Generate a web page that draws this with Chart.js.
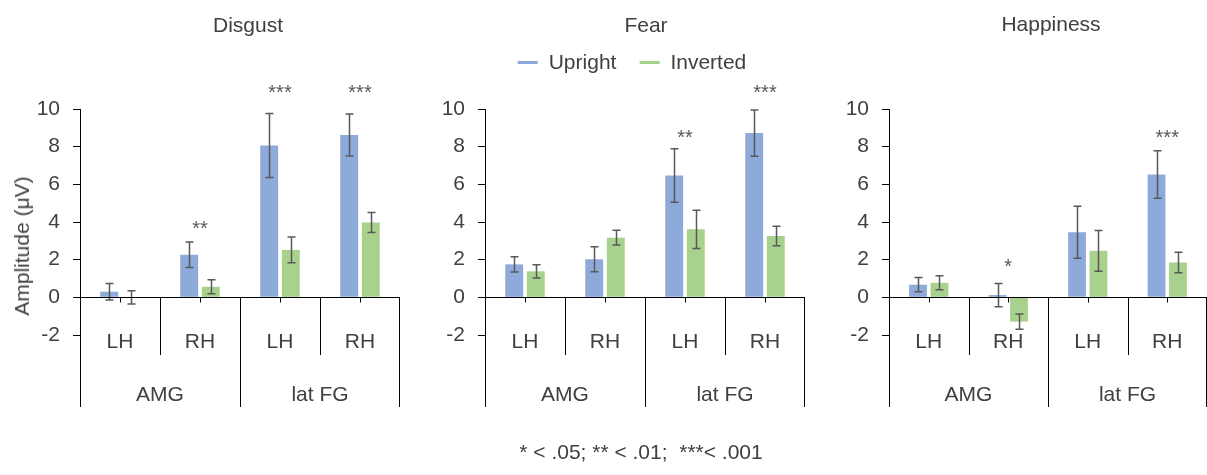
<!DOCTYPE html>
<html>
<head>
<meta charset="utf-8">
<script src="https://cdn.jsdelivr.net/npm/chart.js@4/dist/chart.umd.min.js"></script>
<style>
  body { margin: 0; background: #fff; }
  #wrap { position: relative; width: 1207px; height: 475px; overflow: hidden;
          font-family: 'Liberation Sans', Arial, sans-serif; color: #404040; }
  #wrap canvas { position: absolute; left: 0; top: 0; }
  .lbl { position: absolute; font-size: 21px; white-space: pre; transform: translate(-50%, -50%); }
  .ytitle { transform: translate(-50%, -50%) rotate(-90deg); }
  .legend { position: absolute; left: 632px; top: 62px; transform: translate(-50%, -50%);
            display: flex; align-items: center; font-size: 21px; white-space: nowrap; }
  .legend span.mk { display: inline-block; width: 20px; height: 3px; margin-right: 11px; }
  .legend span.item { display: flex; align-items: center; margin-right: 23px; }
  .legend span.item:last-child { margin-right: 0; }
</style>
</head>
<body>
<div id="wrap">
  <canvas id="disgust" width="1207" height="475"></canvas>
  <canvas id="fear" width="1207" height="475"></canvas>
  <canvas id="happiness" width="1207" height="475"></canvas>

  <div class="lbl" style="left:248px; top:25px;">Disgust</div>
  <div class="lbl" style="left:646px; top:25px;">Fear</div>
  <div class="lbl" style="left:1051px; top:24px;">Happiness</div>
  <div class="lbl ytitle" style="left:22px; top:246px;">Amplitude (μV)</div>
  <div class="legend">
    <span class="item"><span class="mk" style="background:#8eaadb"></span>Upright</span>
    <span class="item"><span class="mk" style="background:#a9d18e"></span>Inverted</span>
  </div>
  <div class="lbl" style="left:641px; top:452px;">* &lt; .05; ** &lt; .01;  ***&lt; .001</div>
</div>

<script>
// categorías del eje x (dos niveles)
var categories = ['LH', 'RH', 'LH', 'RH'];
var regions = ['AMG', 'lat FG'];

// Disgust
var disgustUpright = [0.3, 2.26, 8.06, 8.62];
var disgustUprightErr = [0.44, 0.68, 1.7, 1.12];
var disgustInverted = [0.0, 0.56, 2.52, 3.97];
var disgustInvertedErr = [0.35, 0.37, 0.68, 0.53];
var disgustStars = ['', '**', '***', '***'];
var disgustStarAt = [null, 3.9, 11.1, 11.1];

// Fear
var fearUpright = [1.75, 2.02, 6.47, 8.72];
var fearUprightErr = [0.4, 0.66, 1.42, 1.23];
var fearInverted = [1.38, 3.17, 3.61, 3.26];
var fearInvertedErr = [0.35, 0.39, 1.02, 0.52];
var fearStars = ['', '', '**', '***'];
var fearStarAt = [null, null, 8.72, 11.1];

// Happiness
var happinessUpright = [0.67, 0.12, 3.45, 6.52];
var happinessUprightErr = [0.38, 0.62, 1.38, 1.26];
var happinessInverted = [0.77, -1.29, 2.47, 1.85];
var happinessInvertedErr = [0.37, 0.4, 1.08, 0.55];
var happinessStars = ['', '*', '', '***'];
var happinessStarAt = [null, 1.87, null, 8.72];

var FONT = "'Liberation Sans', Arial, sans-serif";

// ejes de categorías, barras de error y asteriscos
var panelDecor = {
    id: 'panelDecor',
    afterDatasetsDraw: function (chart, args, opts) {
        var ctx = chart.ctx;
        var xs = chart.scales.x;
        var ys = chart.scales.y;
        var area = chart.chartArea;
        var y0 = Math.round(ys.getPixelForValue(0)) + 0.5;
        var left = Math.round(area.left) + 0.5;
        var step = (area.right - area.left) / categories.length;

        ctx.save();

        // barras de error
        ctx.strokeStyle = '#595959';
        ctx.lineWidth = 1.5;
        [opts.upErr, opts.invErr].forEach(function (errs, di) {
            var meta = chart.getDatasetMeta(di);
            var vals = chart.data.datasets[di].data;
            meta.data.forEach(function (bar, i) {
                var x = Math.round(bar.x) + 0.5;
                var t = ys.getPixelForValue(vals[i] + errs[i]);
                var b = ys.getPixelForValue(vals[i] - errs[i]);
                ctx.beginPath();
                ctx.moveTo(x, t); ctx.lineTo(x, b);
                ctx.moveTo(x - 4, t); ctx.lineTo(x + 4, t);
                ctx.moveTo(x - 4, b); ctx.lineTo(x + 4, b);
                ctx.stroke();
            });
        });

        // línea del cero y marcas
        ctx.strokeStyle = '#000';
        ctx.lineWidth = 1;
        ctx.beginPath();
        ctx.moveTo(left, y0);
        ctx.lineTo(area.right, y0);
        categories.forEach(function (c, i) {
            var cx = Math.round(xs.getPixelForValue(i)) + 0.5;
            ctx.moveTo(cx, y0);
            ctx.lineTo(cx, y0 + 5);
        });
        // eje izquierdo prolongado
        ctx.moveTo(left, area.bottom);
        ctx.lineTo(left, area.bottom + 72);
        // divisores
        for (var i = 1; i <= categories.length; i++) {
            var dx = Math.round(area.left + i * step) + 0.5;
            if (i === categories.length) dx -= 1;
            var long = (i % 2 === 0);
            ctx.moveTo(dx, y0);
            ctx.lineTo(dx, long ? area.bottom + 72 : area.bottom + 20);
        }
        ctx.stroke();

        // etiquetas
        ctx.fillStyle = '#404040';
        ctx.font = '21px ' + FONT;
        ctx.textAlign = 'center';
        ctx.textBaseline = 'middle';
        categories.forEach(function (c, i) {
            ctx.fillText(c, xs.getPixelForValue(i), area.bottom + 7);
        });
        regions.forEach(function (r, g) {
            ctx.fillText(r, area.left + (g * 2 + 1) * step, area.bottom + 60);
        });

        // asteriscos
        ctx.fillStyle = '#595959';
        ctx.font = '20px ' + FONT;
        ctx.textBaseline = 'alphabetic';
        opts.stars.forEach(function (s, i) {
            if (!s) return;
            ctx.fillText(s, xs.getPixelForValue(i), ys.getPixelForValue(opts.starAt[i]) + 11);
        });

        ctx.restore();
    }
};

function makePanel(id, up, upErr, inv, invErr, stars, starAt, axisX, rightX) {
    return new Chart(document.getElementById(id), {
        type: 'bar',
        data: {
            labels: categories,
            datasets: [{
                label: 'Upright',
                data: up,
                backgroundColor: '#8eaadb',
                borderWidth: 0,
                categoryPercentage: 0.54,
                barPercentage: 0.83
            }, {
                label: 'Inverted',
                data: inv,
                backgroundColor: '#a9d18e',
                borderWidth: 0,
                categoryPercentage: 0.54,
                barPercentage: 0.83
            }]
        },
        options: {
            responsive: false,
            animation: false,
            events: [],
            layout: {
                padding: { left: axisX - 50, right: 1207 - rightX, top: 109, bottom: 140 }
            },
            plugins: {
                legend: { display: false },
                tooltip: { enabled: false },
                panelDecor: { upErr: upErr, invErr: invErr, stars: stars, starAt: starAt }
            },
            scales: {
                x: { display: false },
                y: {
                    min: -2,
                    max: 10,
                    ticks: { stepSize: 2, padding: 13, color: '#404040', font: { family: FONT, size: 21 } },
                    grid: { drawOnChartArea: false, drawTicks: true, tickLength: 7, color: '#000' },
                    border: { display: true, color: '#000' },
                    afterFit: function (s) {
                        s.width = 50;
                        s.paddingTop = 0;
                        s.paddingBottom = 0;
                    }
                }
            }
        },
        plugins: [panelDecor]
    });
}

makePanel('disgust', disgustUpright, disgustUprightErr, disgustInverted, disgustInvertedErr,
    disgustStars, disgustStarAt, 80, 400);
makePanel('fear', fearUpright, fearUprightErr, fearInverted, fearInvertedErr,
    fearStars, fearStarAt, 485, 805);
makePanel('happiness', happinessUpright, happinessUprightErr, happinessInverted, happinessInvertedErr,
    happinessStars, happinessStarAt, 889, 1207);
</script>
</body>
</html>
